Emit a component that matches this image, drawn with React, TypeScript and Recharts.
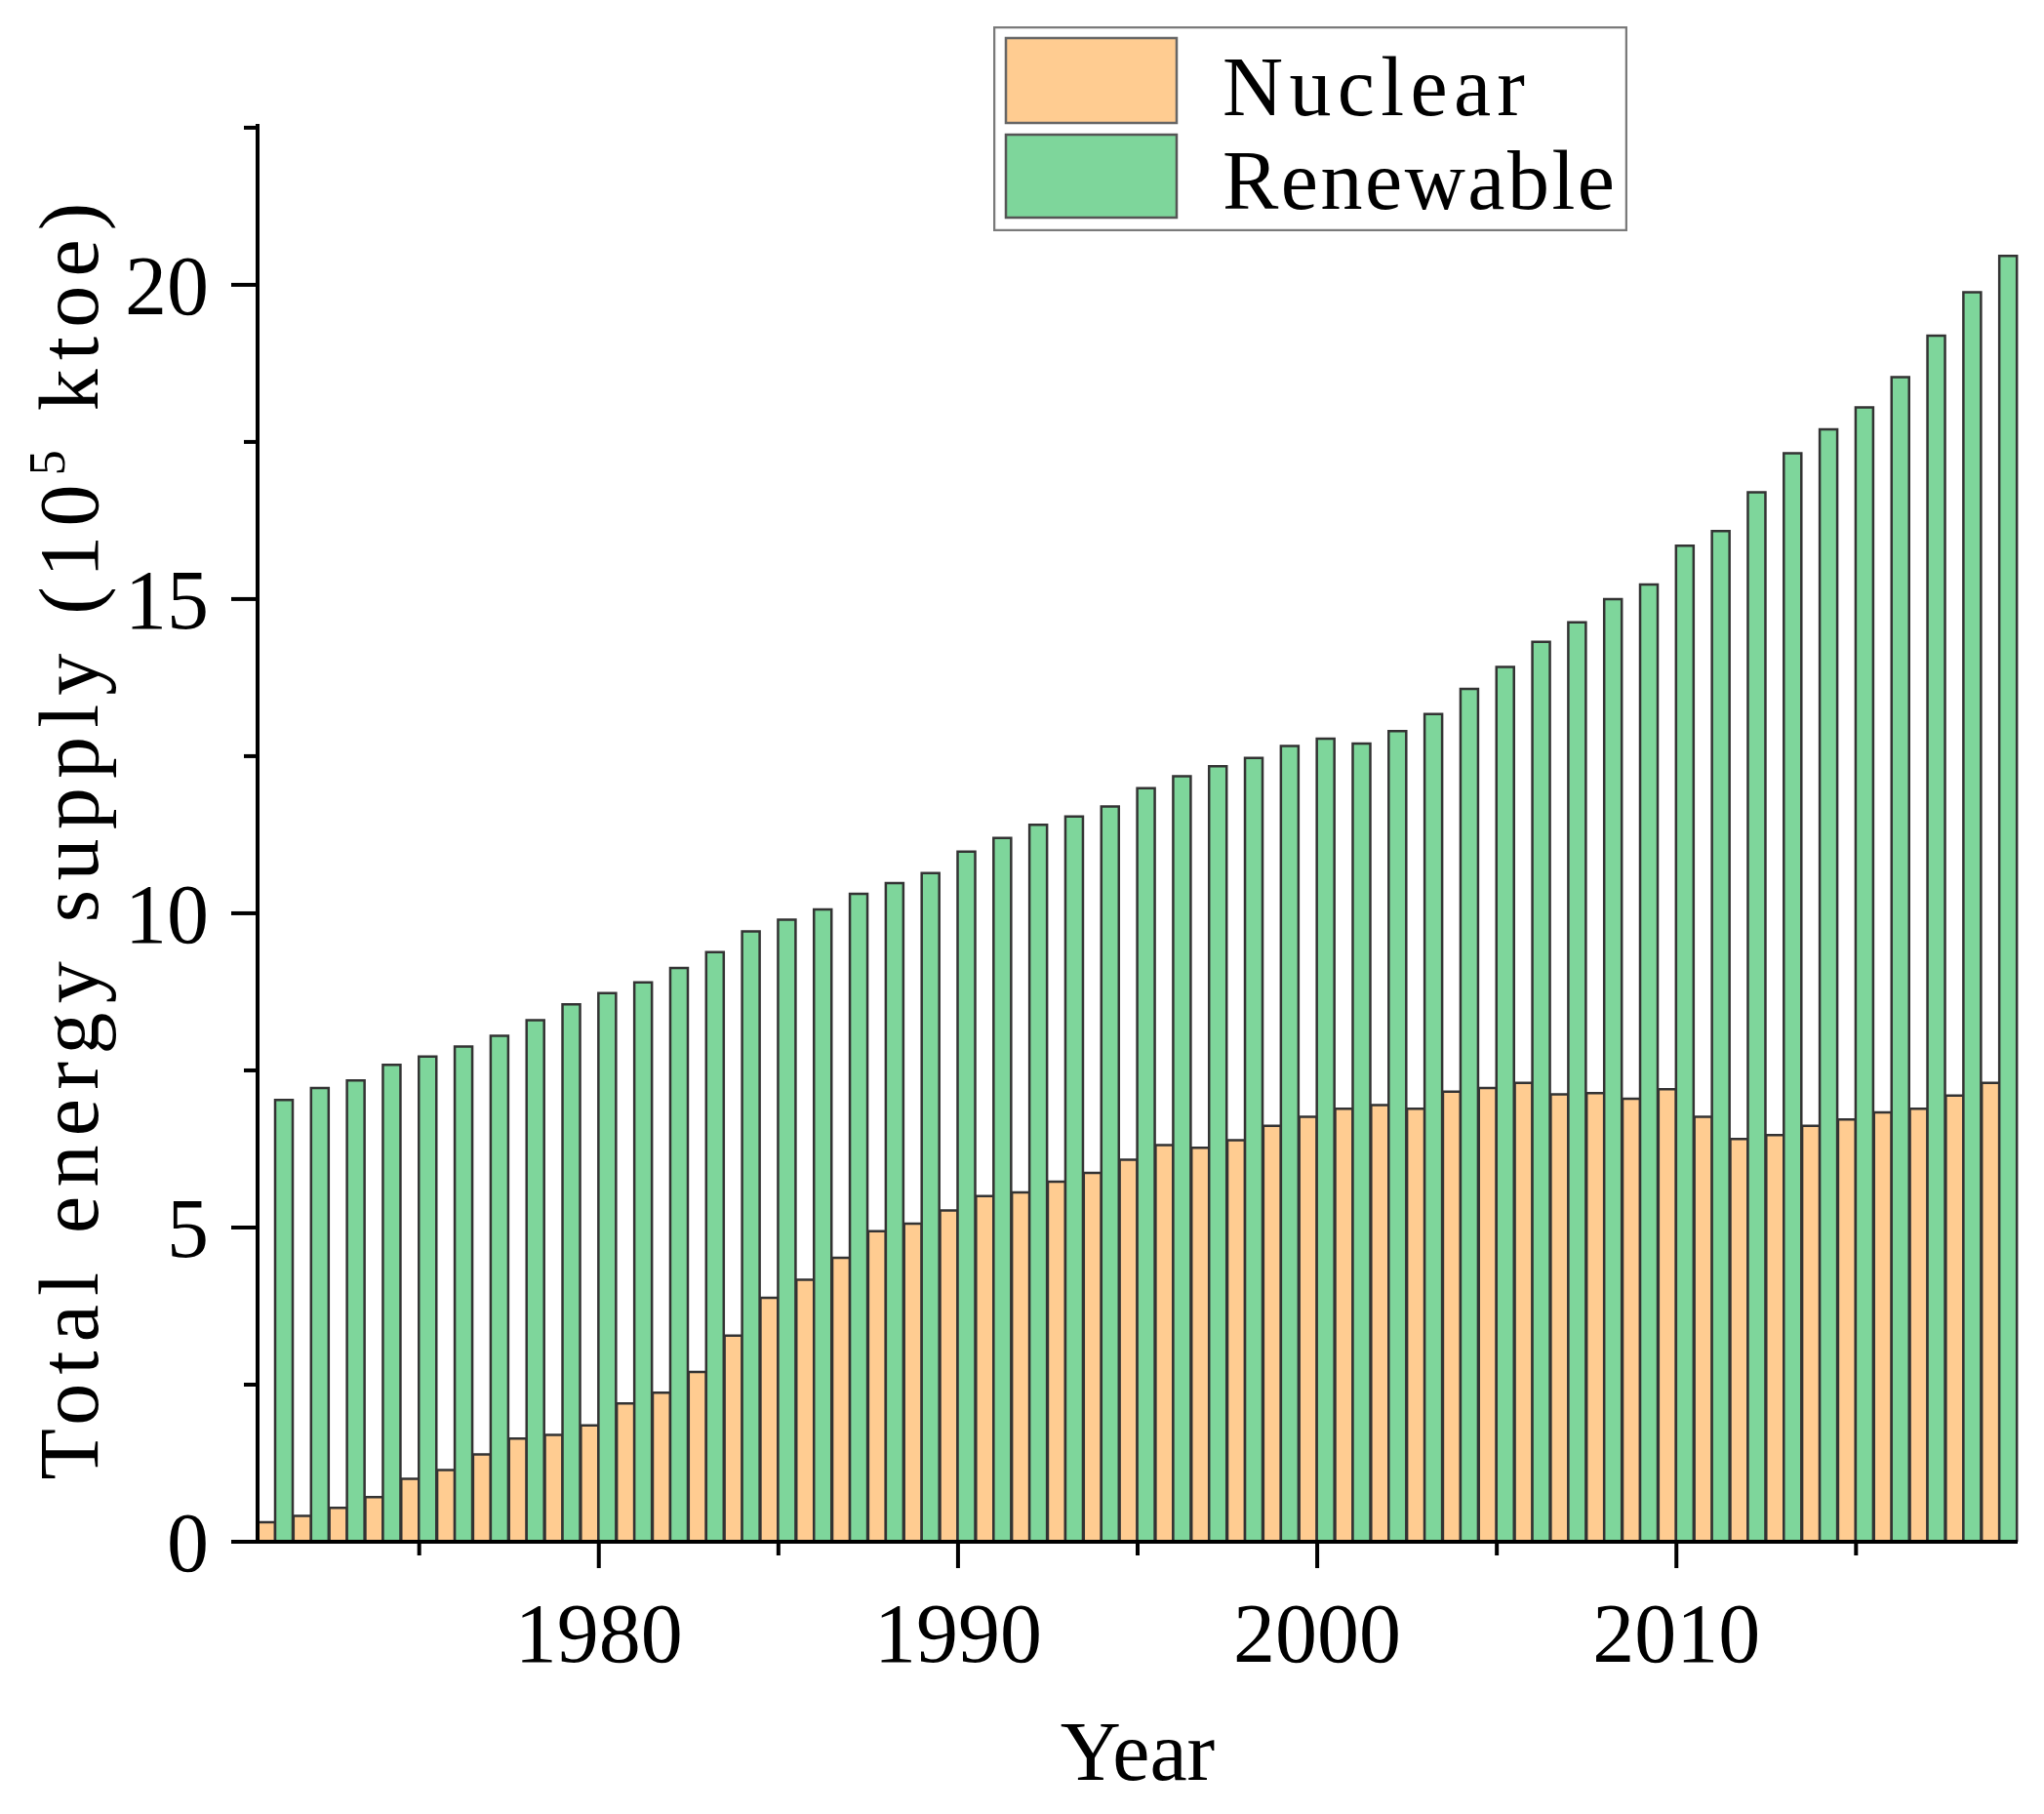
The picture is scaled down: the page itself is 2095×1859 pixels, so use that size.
import React from 'react';
import { BarChart, Bar, XAxis, YAxis, Legend, Label } from 'recharts';

const years = [
  '1971', '1972', '1973', '1974', '1975', '1976', '1977', '1978', '1979', '1980',
  '1981', '1982', '1983', '1984', '1985', '1986', '1987', '1988', '1989', '1990',
  '1991', '1992', '1993', '1994', '1995', '1996', '1997', '1998', '1999', '2000',
  '2001', '2002', '2003', '2004', '2005', '2006', '2007', '2008', '2009', '2010',
  '2011', '2012', '2013', '2014', '2015', '2016', '2017', '2018', '2019',
];

// 10^5 ktoe
const nuclear = [
  0.31, 0.41, 0.54, 0.71, 1.0, 1.14, 1.39, 1.64, 1.7, 1.85,
  2.2, 2.37, 2.7, 3.28, 3.88, 4.17, 4.52, 4.94, 5.06, 5.27,
  5.5, 5.56, 5.73, 5.87, 6.08, 6.31, 6.27, 6.39, 6.62, 6.76,
  6.89, 6.95, 6.89, 7.16, 7.22, 7.3, 7.12, 7.14, 7.05, 7.2,
  6.76, 6.41, 6.47, 6.62, 6.72, 6.83, 6.89, 7.1, 7.3,
];

const renewable = [
  7.03, 7.22, 7.34, 7.59, 7.72, 7.88, 8.05, 8.3, 8.55, 8.73,
  8.9, 9.13, 9.38, 9.71, 9.9, 10.06, 10.31, 10.48, 10.64, 10.98,
  11.2, 11.41, 11.54, 11.7, 11.99, 12.18, 12.34, 12.47, 12.66, 12.78,
  12.7, 12.9, 13.17, 13.57, 13.92, 14.32, 14.63, 15.0, 15.23, 15.85,
  16.08, 16.7, 17.32, 17.7, 18.05, 18.53, 19.19, 19.88, 20.46,
];

const yTicks = [0, 2.5, 5, 7.5, 10, 12.5, 15, 17.5, 20, 22.5];
const majorYears = ['1980', '1990', '2000', '2010'];
const minorYears = ['1975', '1985', '1995', '2005', '2015'];

const NUCLEAR_FILL = '#FFCC91';
const RENEW_FILL = '#7ED69B';
const SERIF = '"Liberation Serif", "Times New Roman", serif';

const data = years.map((year, i) => ({ year, nuclear: nuclear[i], renewable: renewable[i] }));

function XTick(props: any) {
  const { x, y, payload } = props;
  const v = String(payload.value);
  if (majorYears.includes(v)) {
    return (
      <g>
        <line x1={x} x2={x} y1={y} y2={y + 27} stroke="#000" strokeWidth={4} />
        <text x={x} y={y + 123} textAnchor="middle" fontFamily={SERIF} fontSize={86} fill="#000">
          {v}
        </text>
      </g>
    );
  }
  if (minorYears.includes(v)) {
    return <line x1={x} x2={x} y1={y} y2={y + 14} stroke="#000" strokeWidth={4} />;
  }
  return null;
}

function YTick(props: any) {
  const { x, y, payload } = props;
  const v = payload.value as number;
  if (v % 5 === 0) {
    return (
      <g>
        <line x1={x - 27} x2={x} y1={y} y2={y} stroke="#000" strokeWidth={4} />
        <text x={x - 50} y={y + 30} textAnchor="end" fontFamily={SERIF} fontSize={86} fill="#000">
          {v}
        </text>
      </g>
    );
  }
  return <line x1={x - 14} x2={x} y1={y} y2={y} stroke="#000" strokeWidth={4} />;
}

function YLabel() {
  const cx = 70;
  const cy = 862;
  return (
    <text
      x={cx}
      y={cy}
      transform={`rotate(-90, ${cx}, ${cy})`}
      textAnchor="middle"
      dy={30}
      fontFamily={SERIF}
      fontSize={86}
      fill="#000"
      textLength={1309}
      lengthAdjust="spacing"
    >
      Total energy supply (10
      <tspan dy={-34} fontSize={52}>5</tspan>
      <tspan dy={34}> ktoe)</tspan>
    </text>
  );
}

function LegendBox() {
  return (
    <svg width={650} height={210} style={{ display: 'block' }}>
      <rect x={1} y={1} width={648} height={208} fill="#fff" stroke="#7a7a7a" strokeWidth={2.5} />
      <rect x={13} y={12} width={175} height={87} fill={NUCLEAR_FILL} stroke="#666" strokeWidth={2.5} />
      <rect x={13} y={111} width={175} height={85} fill={RENEW_FILL} stroke="#555" strokeWidth={2.5} />
      <text x={235} y={91} fontFamily={SERIF} fontSize={86} fill="#000" textLength={310} lengthAdjust="spacing">
        Nuclear
      </text>
      <text x={235} y={187} fontFamily={SERIF} fontSize={86} fill="#000" textLength={402} lengthAdjust="spacing">
        Renewable
      </text>
    </svg>
  );
}

export default function App() {
  return (
    <div style={{ position: 'absolute', left: 0, top: 0, background: '#fff' }}>
      <BarChart
        width={2095}
        height={1859}
        data={data}
        margin={{ top: 127, right: 27, left: 0, bottom: 35 }}
        barCategoryGap={0}
        barGap={0}
      >
        <XAxis
          dataKey="year"
          type="category"
          interval={0}
          height={244}
          tickSize={0}
          tickMargin={0}
          tickLine={false}
          axisLine={{ stroke: '#000', strokeWidth: 4 }}
          tick={<XTick />}
        >
          <Label
            value="Year"
            position="insideBottom"
            offset={0}
            fontFamily={SERIF}
            fontSize={86}
            fill="#000"
          />
        </XAxis>
        <YAxis
          width={264}
          type="number"
          domain={[0, 22.56]}
          ticks={yTicks}
          interval={0}
          allowDataOverflow
          tickSize={0}
          tickMargin={0}
          tickLine={false}
          axisLine={{ stroke: '#000', strokeWidth: 4 }}
          tick={<YTick />}
        >
          <Label content={<YLabel />} />
        </YAxis>
        <Legend
          layout="vertical"
          align="center"
          verticalAlign="middle"
          content={<LegendBox />}
          wrapperStyle={{ position: 'absolute', left: 1018, top: 27, width: 650, height: 210 }}
        />
        <Bar dataKey="nuclear" name="Nuclear" fill={NUCLEAR_FILL} stroke="#333" strokeWidth={2.5} isAnimationActive={false} />
        <Bar dataKey="renewable" name="Renewable" fill={RENEW_FILL} stroke="#333" strokeWidth={2.5} isAnimationActive={false} />
      </BarChart>
    </div>
  );
}
